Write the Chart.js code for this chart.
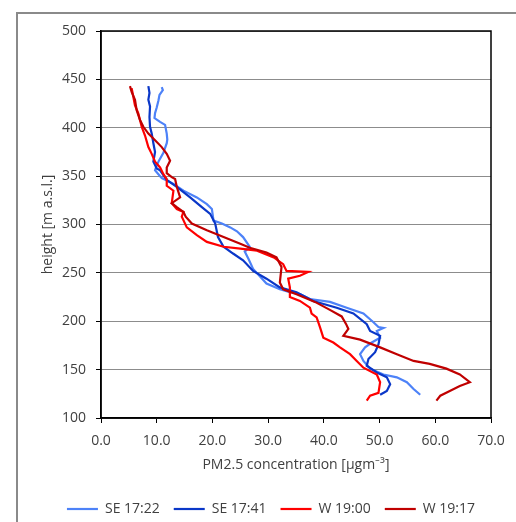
<!DOCTYPE html>
<html>
<head>
<meta charset="utf-8">
<script src="https://cdn.jsdelivr.net/npm/chart.js@4.4.0/dist/chart.umd.min.js"></script>
<style>
  html, body { margin: 0; padding: 0; background: #fff; overflow: hidden; }
  #frame { position: absolute; left: 16px; top: 12px; width: 600px; height: 600px; border: 2px solid #8a8a8a; }
  #wrap { position: absolute; left: 0; top: 0; width: 516px; height: 526px; }
</style>
</head>
<body>
<div id="frame"></div>
<div id="wrap"><canvas id="chart" width="516" height="526"></canvas></div>
<script>
// series names + colours
const seriesNames = ['SE 17:22', 'SE 17:41', 'W 19:00', 'W 19:17'];
const seriesColors = ['#4d82f8', '#0a37c8', '#ff0000', '#c00000'];

// PM2.5 values (µg/m3) and matching heights (m a.s.l.)
const se1722Pm = [10.9,11.1,10.5,10.3,10.0,9.7,9.6,10.6,11.5,11.8,11.9,11.8,11.2,10.4,10.0,9.7,10.3,10.9,12.0,13.0,14.8,17.2,19.0,19.9,20.2,21.7,23.2,24.4,25.5,26.7,25.8,26.5,27.3,29.7,32.1,33.9,35.7,37.5,41.1,44.1,47.1,48.9,49.8,50.7,49.5,50.1,48.6,47.4,46.5,47.1,48.3,50.7,53.1,54.9,56.1,57.3];
const se1722H  = [442,439,434,428,421,415,410,406,403,394,388,384,374,366,361,356,352,348,345,342,335,328,321,316,304,301,297,293,287,277,272,264,254,239,233,230,228,223,220,214,208,199,194,193,190,183,178,173,166,159,151,145,142,137,130,124];

const se1741Pm = [8.5,8.7,8.5,8.8,8.7,8.8,9.1,9.4,9.7,9.4,10.0,10.6,11.8,13.6,16.0,18.1,19.6,20.5,21.0,22.0,23.7,25.5,27.3,29.7,32.1,35.1,38.1,42.3,45.3,47.7,48.3,50.1,49.8,49.2,48.0,47.7,49.5,51.3,51.9,51.3,50.1];
const se1741H  = [443,436,429,422,411,401,394,384,375,365,358,356,346,339,328,318,311,301,287,277,270,263,252,244,235,230,221,214,208,197,190,185,176,168,161,154,147,142,135,128,124];

const w1900Pm = [5.5,5.8,6.1,6.7,7.0,7.3,7.9,8.5,9.1,9.7,10.6,11.2,11.8,11.8,13.0,12.7,13.6,14.8,14.5,15.4,17.2,19.0,22.0,25.0,28.0,31.0,32.7,33.3,37.2,35.7,33.6,33.9,33.9,35.7,37.5,37.8,38.7,39.3,39.9,41.7,42.9,44.7,45.9,47.1,49.5,50.1,49.8,48.3,47.7];
const w1900H  = [441,432,423,415,408,401,392,380,373,365,359,352,347,340,335,322,316,313,308,297,289,282,277,275,273,266,259,252,251,247,244,235,225,221,214,208,204,194,183,178,173,166,159,152,145,137,126,123,118];

const w1917Pm = [5.2,5.5,6.1,6.4,7.0,7.6,8.5,9.7,10.9,11.8,12.4,11.8,11.8,12.7,13.3,13.6,14.2,12.7,13.6,14.8,15.2,16.3,19.0,22.0,25.0,26.7,29.7,31.5,32.4,32.1,32.7,35.1,38.4,41.0,43.2,44.0,44.4,43.5,46.5,50.1,53.1,56.1,59.0,62.0,64.4,66.2,64.4,62.6,60.9,60.2];
const w1917H  = [443,437,429,418,408,401,394,387,380,373,366,359,353,349,347,339,328,322,318,313,308,301,294,287,280,276,271,266,256,240,233,228,220,212,205,197,192,185,181,173,166,159,156,151,145,137,133,128,123,118];

const pmSeries = [se1722Pm, se1741Pm, w1900Pm, w1917Pm];
const heightSeries = [se1722H, se1741H, w1900H, w1917H];

// axis ranges
const xMin = 0, xMax = 70, xStep = 10;
const yMin = 100, yMax = 500, yStep = 50;

const textColor = '#404040';
Chart.defaults.font.family = "'Open Sans', sans-serif";
Chart.defaults.font.size = 14;
Chart.defaults.color = textColor;

// black frame round the plot area
const plotBorder = {
  id: 'plotBorder',
  afterDraw(chart) {
    const { ctx, chartArea: a } = chart;
    ctx.save();
    ctx.strokeStyle = '#000';
    ctx.lineWidth = 1.5;
    ctx.strokeRect(a.left, a.top, a.right - a.left, a.bottom - a.top);
    ctx.restore();
  }
};

// move legend row a bit to the right like in the original
const legendShift = {
  id: 'legendShift',
  afterLayout(chart) {
    chart.legend.left = 51;
  }
};

const datasets = seriesNames.map((name, i) => ({
  label: name,
  data: pmSeries[i].map((v, k) => ({ x: v, y: heightSeries[i][k] })),
  borderColor: seriesColors[i],
  backgroundColor: seriesColors[i],
  borderWidth: 2.2,
  pointRadius: 0,
  showLine: true,
  tension: 0,
  order: seriesNames.length - i
}));

new Chart(document.getElementById('chart'), {
  type: 'scatter',
  data: { datasets },
  options: {
    responsive: false,
    animation: false,
    layout: { padding: { left: 4, right: 25, top: 31, bottom: 0 } },
    plugins: {
      tooltip: { enabled: false },
      legend: {
        position: 'bottom',
        labels: {
          usePointStyle: true,
          pointStyle: 'line',
          pointStyleWidth: 31,
          padding: 14,
          color: textColor,
          sort: (a, b) => a.datasetIndex - b.datasetIndex
        }
      }
    },
    scales: {
      x: {
        type: 'linear',
        min: xMin, max: xMax,
        afterFit: s => { s.height = 70; },
        ticks: { stepSize: xStep, padding: 10, callback: v => v.toFixed(1) },
        grid: { drawOnChartArea: false, drawTicks: true, tickLength: 5, color: '#000' },
        border: { color: '#000', width: 1.5 },
        title: { display: true, text: 'PM2.5 concentration [µgm⁻³]', padding: { top: 0, bottom: 15 } }
      },
      y: {
        type: 'linear',
        min: yMin, max: yMax,
        afterFit: s => { s.width = 97; },
        ticks: { stepSize: yStep, padding: 10 },
        grid: { color: '#8c8c8c', lineWidth: 1, tickColor: '#000', tickLength: 5 },
        border: { color: '#000', width: 1.5 },
        title: { display: true, text: 'height [m a.s.l.]', padding: { top: 36, bottom: 0 } }
      }
    }
  },
  plugins: [plotBorder, legendShift]
});
</script>
</body>
</html>
